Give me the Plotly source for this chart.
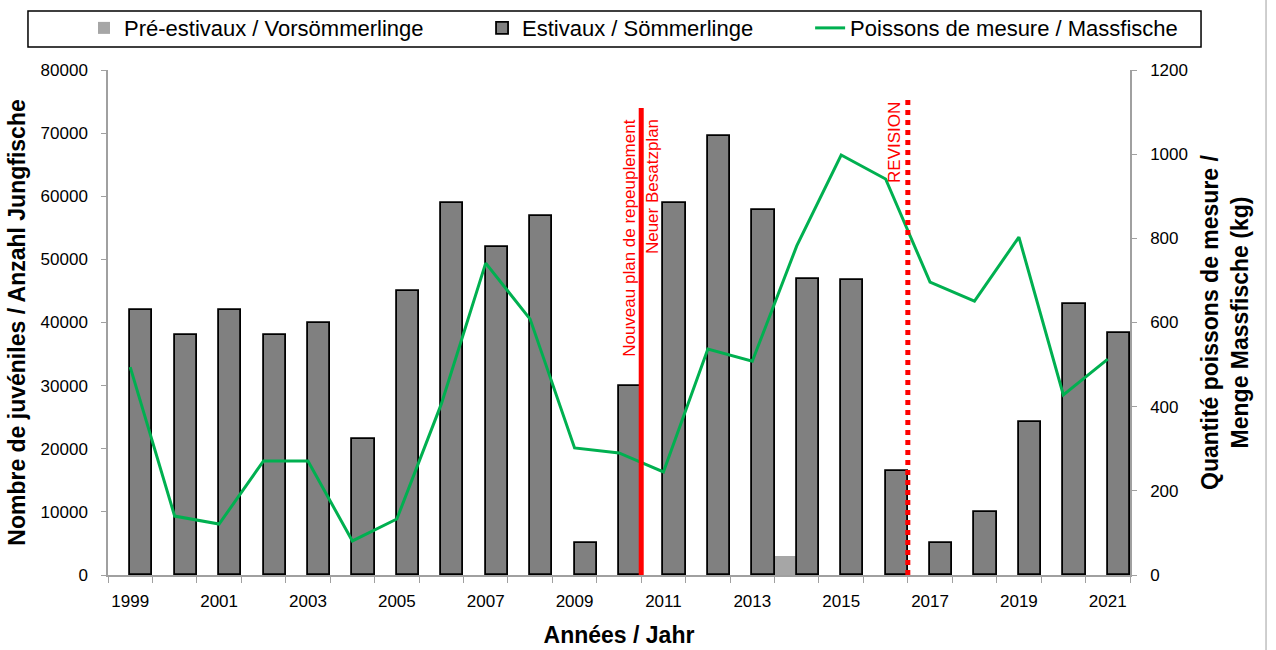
import plotly.graph_objects as go

years = list(range(1999, 2022))
pre_estivaux = [0, 0, 0, 0, 0, 0, 0, 0, 0, 0, 0, 0, 0, 0, 0, 3000, 0, 0, 0, 0, 0, 0, 0]
estivaux = [42000, 38000, 42000, 38000, 40000, 21500, 45000, 59000, 52000, 56800, 5000, 30000,
            59000, 69600, 57800, 46900, 46800, 16500, 5000, 10000, 24200, 42900, 38300]
massfische = [494, 140, 121, 271, 271, 81, 133, 406, 741, 608, 302, 290,
              245, 537, 508, 782, 998, 941, 696, 651, 803, 428, 513]
label_years = [y for y in years if y % 2 == 1]

FONT = "Liberation Sans, Arial, sans-serif"
BOLD = "Liberation Sans, Arial, sans-serif"

fig = go.Figure()
fig.add_trace(go.Bar(x=years, y=pre_estivaux, name="Pré-estivaux / Vorsömmerlinge",
                     marker=dict(color="#a6a6a6", line=dict(width=0)), legend="legend"))
fig.add_trace(go.Bar(x=years, y=estivaux, name="Estivaux / Sömmerlinge",
                     marker=dict(color="#808080", line=dict(color="black", width=1.8)), legend="legend2"))
fig.add_trace(go.Scatter(x=years, y=massfische, name="Poissons de mesure / Massfische", mode="lines",
                         line=dict(color="#00b050", width=3), yaxis="y2", legend="legend3"))

fig.update_layout(
    width=1276, height=650,
    margin=dict(l=108, r=146, t=70, b=75, autoexpand=False),
    plot_bgcolor="white", paper_bgcolor="white",
    barmode="group", bargap=0, bargroupgap=0,
    font=dict(family=FONT, size=17, color="black"),
    xaxis=dict(range=[1998.5, 2021.5], tickmode="array", tickvals=label_years,
               ticktext=[str(y) for y in label_years], ticks="", showgrid=False,
               showline=True, linecolor="#a0a0a0", linewidth=1.5, automargin=False,
               tickfont=dict(size=17, family=FONT), ticklabelstandoff=10,
               minor=dict(tickmode="array", tickvals=[y - 0.5 for y in years] + [2021.5],
                          ticks="outside", ticklen=6, tickcolor="#a0a0a0", showgrid=False),
               title=dict(text="<b>Années / Jahr</b>", font=dict(size=23, family=BOLD), standoff=17)),
    yaxis=dict(range=[0, 80000], dtick=10000, tickformat="d", showgrid=False, showline=True,
               linecolor="#a0a0a0", automargin=False, ticklabelstandoff=10,
               linewidth=1.5, ticks="outside", ticklen=5, tickcolor="#a0a0a0",
               tickfont=dict(size=17, family=FONT), zeroline=False,
               title=dict(text="<b>Nombre de juvéniles / Anzahl Jungfische</b>",
                          font=dict(size=23, family=BOLD), standoff=9)),
    yaxis2=dict(range=[0, 1200], dtick=200, tickformat="d", overlaying="y", side="right", showgrid=False,
                showline=True, linecolor="#a0a0a0", linewidth=1.5, ticks="outside", ticklen=5,
                automargin=False, ticklabelstandoff=10,
                tickcolor="#a0a0a0", tickfont=dict(size=17, family=FONT), zeroline=False,
                title=dict(text="<b>Quantité poissons de mesure /<br>Menge Massfische (kg)</b>",
                           font=dict(size=23, family=BOLD), standoff=15)),
    legend=dict(x=-0.0235, y=1.083, xanchor="left", yanchor="middle", orientation="h",
                font=dict(size=22, family=FONT), bgcolor="rgba(0,0,0,0)"),
    legend2=dict(x=0.366, y=1.083, xanchor="left", yanchor="middle", orientation="h",
                 font=dict(size=22, family=FONT), bgcolor="rgba(0,0,0,0)"),
    legend3=dict(x=0.687, y=1.083, xanchor="left", yanchor="middle", orientation="h",
                 font=dict(size=22, family=FONT), bgcolor="rgba(0,0,0,0)"),
    showlegend=True,
)

# legend frame and outer border
fig.add_shape(type="rect", xref="paper", yref="paper", x0=-0.0783, x1=1.0695, y0=1.0455, y1=1.1168,
              line=dict(color="black", width=1.5), fillcolor="rgba(0,0,0,0)")
fig.add_shape(type="line", xref="paper", yref="paper", x0=1.1331, x1=1.1331, y0=-0.16, y1=1.16,
              line=dict(color="#bfbfbf", width=1.5))

# vertical markers
fig.add_shape(type="line", xref="x", yref="y", x0=2010.5, x1=2010.5, y0=0, y1=74000,
              line=dict(color="red", width=5))
fig.add_shape(type="line", xref="x", yref="y", x0=2016.5, x1=2016.5, y0=0, y1=75250,
              line=dict(color="red", width=5, dash="dot"))

fig.add_annotation(x=2010.25, y=72600, xref="x", yref="y", text="Nouveau plan de repeuplement",
                   textangle=-90, showarrow=False, xanchor="center", yanchor="top",
                   font=dict(color="red", size=17, family=FONT))
fig.add_annotation(x=2010.74, y=72600, xref="x", yref="y", text="Neuer Besatzplan",
                   textangle=-90, showarrow=False, xanchor="center", yanchor="top",
                   font=dict(color="red", size=17, family=FONT))
fig.add_annotation(x=2016.2, y=75250, xref="x", yref="y", text="REVISION",
                   textangle=-90, showarrow=False, xanchor="center", yanchor="top",
                   font=dict(color="red", size=17, family=FONT))

fig.write_html("out.html", config={"displayModeBar": False},
               post_script="document.body.style.margin='0';")
